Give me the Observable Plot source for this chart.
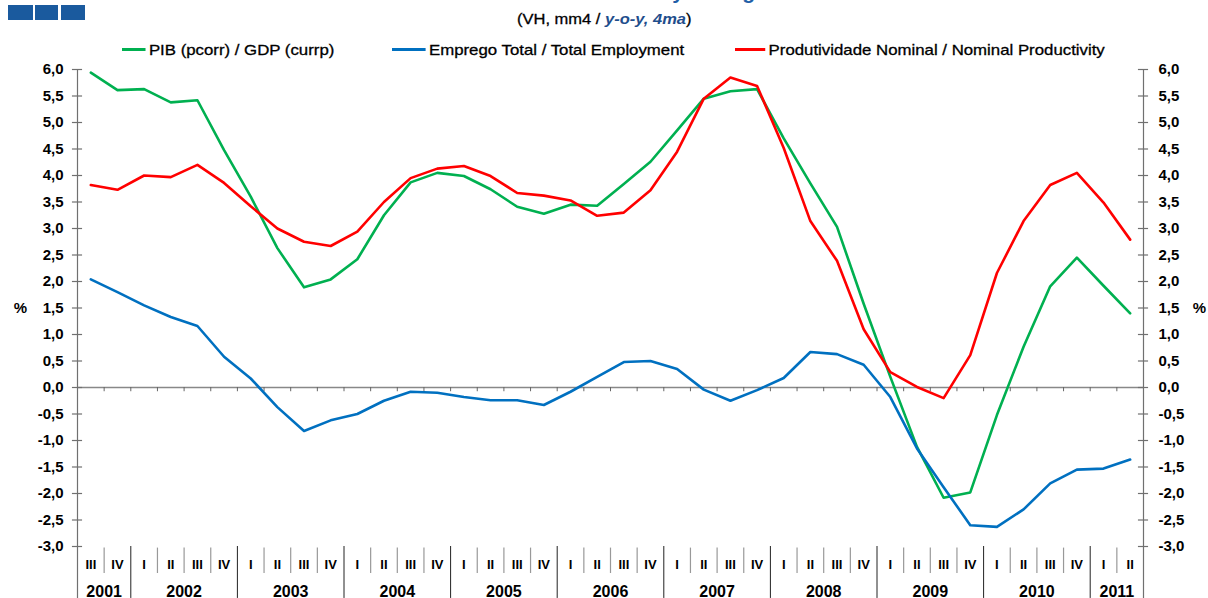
<!DOCTYPE html>
<html>
<head>
<meta charset="utf-8">
<script src="https://cdn.jsdelivr.net/npm/d3@7"></script>
<script src="https://cdn.jsdelivr.net/npm/@observablehq/plot@0.6"></script>
<style>
  html, body { margin: 0; padding: 0; background: #fff; width: 1208px; height: 598px; overflow: hidden; }
  body { position: relative; font-family: "Liberation Sans", Arial, sans-serif; }
  .abs { position: absolute; white-space: nowrap; }
  .sq { position: absolute; top: 5px; height: 15px; background: #1a5a9e; }
  .leg { position: absolute; top: 40px; height: 18px; display: flex; align-items: center; font-size: 15px; color: #000; -webkit-text-stroke: 0.3px #000; transform-origin: left center; transform: scaleX(1.12); }
  .sw { display: inline-block; height: 3px; margin-right: 3px; }
  #chart { position: absolute; left: 0; top: 60px; }
</style>
</head>
<body>
<div class="sq" style="left:8px;width:25px"></div>
<div class="sq" style="left:35px;width:23px"></div>
<div class="sq" style="left:61px;width:24px"></div>
<div class="abs" style="left:474px;top:-18.8px;font-size:21px;line-height:21px;font-weight:bold;color:#1f5fa8">Nominal Productivity Change</div>
<div class="abs" id="subtitle" style="left:517px;top:10px;font-size:15px;line-height:17px;color:#000;-webkit-text-stroke:0.3px #000;transform-origin:left center;transform:scaleX(1.1)">(VH, mm4 / <span style="color:#1f4e8c;font-weight:bold;font-style:italic;-webkit-text-stroke:0">y-o-y, 4ma</span>)</div>
<div class="leg" style="left:122px"><span class="sw" style="width:21px;background:#00b050"></span>PIB (pcorr) / GDP (currp)</div>
<div class="leg" style="left:392px"><span class="sw" style="width:30px;background:#0070c0"></span>Emprego Total / Total Employment</div>
<div class="leg" style="left:735px"><span class="sw" style="width:27px;background:#ff0000"></span>Produtividade Nominal / Nominal Productivity</div>
<div id="chart"></div>
<script>
// Quarter labels (2001 Q3 .. 2011 Q2)
const quarters = ["III","IV",
  "I","II","III","IV", "I","II","III","IV", "I","II","III","IV", "I","II","III","IV",
  "I","II","III","IV", "I","II","III","IV", "I","II","III","IV", "I","II","III","IV",
  "I","II","III","IV", "I","II"];
const years = ["2001","2002","2003","2004","2005","2006","2007","2008","2009","2010","2011"];
const quartersPerYear = [2,4,4,4,4,4,4,4,4,4,2];

// Series (% y-o-y, 4ma)
const gdp = [5.94, 5.61, 5.63, 5.38, 5.42, 4.48, 3.6, 2.63, 1.89, 2.04,
             2.42, 3.25, 3.87, 4.05, 3.99, 3.74, 3.41, 3.28, 3.45, 3.43,
             3.84, 4.26, 4.85, 5.45, 5.59, 5.63, 4.7, 3.85, 3.03, 1.58,
             0.2, -1.12, -2.08, -1.98, -0.52, 0.77, 1.91, 2.45, 1.92, 1.4];
const employment = [2.04, 1.8, 1.55, 1.33, 1.16, 0.58, 0.17, -0.37, -0.82, -0.62,
             -0.5, -0.25, -0.08, -0.1, -0.18, -0.24, -0.24, -0.33, -0.08, 0.2,
             0.48, 0.5, 0.35, -0.04, -0.25, -0.05, 0.18, 0.67, 0.63, 0.43,
             -0.18, -1.15, -1.88, -2.6, -2.63, -2.3, -1.81, -1.55, -1.53, -1.36];
const productivity = [3.82, 3.73, 4.0, 3.97, 4.2, 3.86, 3.42, 3.0, 2.75, 2.67,
             2.94, 3.5, 3.95, 4.13, 4.18, 3.99, 3.67, 3.62, 3.53, 3.24,
             3.3, 3.72, 4.45, 5.45, 5.85, 5.69, 4.52, 3.14, 2.39, 1.1,
             0.29, 0.01, -0.2, 0.61, 2.16, 3.14, 3.82, 4.05, 3.49, 2.79];
const yTicks = [-3,-2.5,-2,-1.5,-1,-0.5,0,0.5,1,1.5,2,2.5,3,3.5,4,4.5,5,5.5,6];

const n = quarters.length;
const qIdx = d3.range(n);
const fmt = d => d.toFixed(1).replace(".", ",");

// year boundaries & centers derived from quarter counts
const yearStart = [];
let acc = 0;
for (const c of quartersPerYear) { yearStart.push(acc); acc += c; }
const yearRows = years.map((y, k) => ({y, center: yearStart[k] + quartersPerYear[k] / 2 - 0.5, start: yearStart[k]}));
const yearBounds = yearStart.slice(1).map(s => s - 0.5);
const allBounds = d3.range(1, n).map(b => b - 0.5);
const quarterBounds = allBounds.filter(b => !yearBounds.includes(b));

const yBottom = -3.98;
const tickHalf = 0.19;

const chart = Plot.plot({
  width: 1208,
  height: 538,
  marginLeft: 77,
  marginRight: 65,
  marginTop: 9,
  marginBottom: 52,
  x: {domain: [-0.5, n - 0.5], axis: null},
  y: {domain: [-3, 6], axis: null},
  style: {fontFamily: "'Liberation Sans', Arial, sans-serif", fontSize: "15px", fontWeight: "bold", color: "#000", background: "white", overflow: "visible"},
  marks: [
    Plot.ruleY([0], {x1: -0.5, x2: n - 0.5, stroke: "#888", strokeWidth: 1.5}),
    Plot.ruleX(allBounds, {x: d => d, y1: 0, y2: -0.08, stroke: "#666"}),
    Plot.ruleX([-0.5, n - 0.5], {x: d => d, y1: yBottom, y2: 6, stroke: "#707070", strokeWidth: 1.2}),
    Plot.ruleY(yTicks, {y: d => d, x1: -0.5 - tickHalf, x2: -0.5 + tickHalf, stroke: "#707070", strokeWidth: 1.2}),
    Plot.ruleY(yTicks, {y: d => d, x1: n - 0.5 - tickHalf, x2: n - 0.5 + tickHalf, stroke: "#707070", strokeWidth: 1.2}),
    Plot.axisY({anchor: "left", ticks: yTicks, tickSize: 0, tickPadding: 14, tickFormat: fmt, label: null, fontSize: 15}),
    Plot.axisY({anchor: "right", ticks: yTicks, tickSize: 0, tickPadding: 15, tickFormat: fmt, label: null, fontSize: 15}),
    Plot.text(["%"], {x: -0.5, y: 1.5, dx: -57, text: d => d, fontSize: 15, fontWeight: "bold"}),
    Plot.text(["%"], {x: n - 0.5, y: 1.5, dx: 56, text: d => d, fontSize: 15, fontWeight: "bold"}),
    Plot.ruleX(quarterBounds, {x: d => d, y1: -3.03, y2: -3.51, stroke: "#999", strokeWidth: 1.2}),
    Plot.ruleX(yearBounds, {x: d => d, y1: -3.0, y2: yBottom, stroke: "#222", strokeWidth: 1}),
    Plot.text(qIdx, {x: d => d, y: -3, dy: 18, text: d => quarters[d], fontSize: 13, fontWeight: "bold"}),
    Plot.text(yearRows, {x: "center", y: -3, dy: 45, text: "y", fontSize: 16, fontWeight: "bold"}),
    Plot.lineY(gdp, {x: (d, i) => i, y: d => d, stroke: "#00b050", strokeWidth: 2.6}),
    Plot.lineY(employment, {x: (d, i) => i, y: d => d, stroke: "#0070c0", strokeWidth: 2.6}),
    Plot.lineY(productivity, {x: (d, i) => i, y: d => d, stroke: "#ff0000", strokeWidth: 2.6})
  ]
});
document.getElementById("chart").appendChild(chart);
</script>
</body>
</html>
